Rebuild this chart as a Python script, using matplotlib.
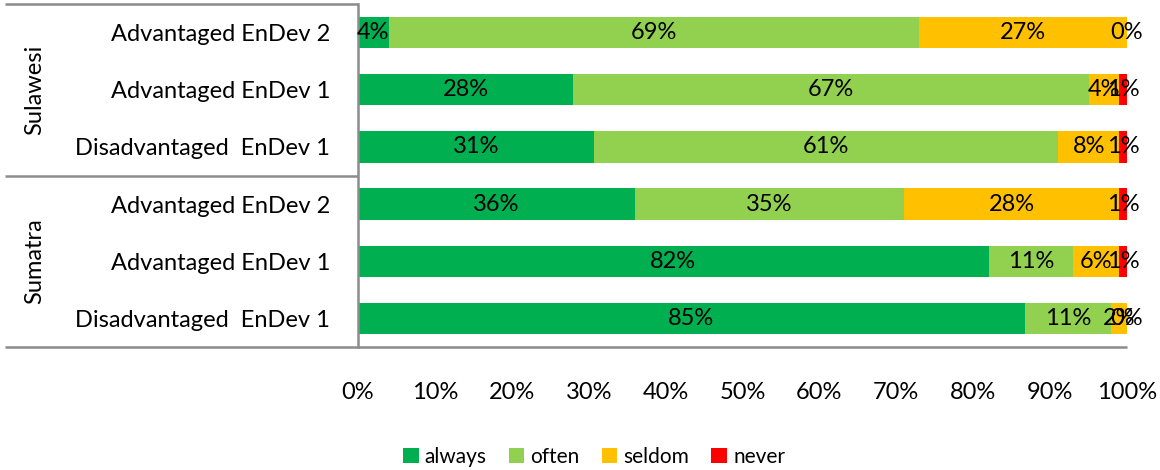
import matplotlib
matplotlib.use("Agg")
import matplotlib.pyplot as plt
from matplotlib.patches import Patch
from matplotlib.transforms import blended_transform_factory
import numpy as np

plt.rcParams['font.family'] = ['Lato', 'DejaVu Sans']

# Rows from top to bottom
regions = ["Sulawesi", "Sumatra"]
groups = ["Advantaged EnDev 2", "Advantaged EnDev 1", "Disadvantaged  EnDev 1",
          "Advantaged EnDev 2", "Advantaged EnDev 1", "Disadvantaged  EnDev 1"]
series = ["always", "often", "seldom", "never"]
always = [4, 28, 31, 36, 82, 85]
often = [69, 67, 61, 35, 11, 11]
seldom = [27, 4, 8, 28, 6, 2]
never = [0, 1, 1, 1, 1, 0]
colors = ["#00B050", "#92D050", "#FFC000", "#FF0000"]

FS = 17
GRID = "#8C8C8C"

fig = plt.figure(figsize=(11.6, 4.7), dpi=100)
ax = fig.add_axes([358 / 1160, 1 - 347 / 470, (1127 - 358) / 1160, (347 - 4) / 470])

# 100% stacked: each row is scaled by its own total
vals = np.array([always, often, seldom, never], dtype=float)
shares = vals / vals.sum(axis=0)
y = np.arange(len(groups))
left = np.zeros(len(groups))
for name, share, raw, col in zip(series, shares, vals, colors):
    ax.barh(y, share, left=left, height=0.55, color=col, label=name, linewidth=0)
    for yi, l, s, r in zip(y, left, share, raw):
        ax.text(l + s / 2, yi, f"{int(r)}%", ha="center", va="center",
                fontsize=FS, color="black")
    left = left + share

ax.set_xlim(0, 1)
ax.set_ylim(len(groups) - 0.5, -0.5)
ax.set_xticks(np.linspace(0, 1, 11))
ax.set_xticklabels([f"{p}%" for p in range(0, 101, 10)], fontsize=FS)
ax.set_yticks(y)
ax.set_yticklabels(groups, fontsize=FS)
ax.tick_params(axis="x", length=0, pad=25)
ax.tick_params(axis="y", length=0, pad=20)
for s in ["top", "right", "bottom"]:
    ax.spines[s].set_visible(False)
ax.spines["left"].set_color(GRID)
ax.spines["left"].set_linewidth(1.8)

# Multi-level category frame
tr = ax.get_yaxis_transform()
x0 = (5 - 358) / (1127 - 358)
for yy, x1 in [(-0.5, 0), (2.5, 0), (5.5, 1)]:
    ax.plot([x0, x1], [yy, yy], transform=tr, color=GRID, lw=1.8,
            clip_on=False, solid_capstyle="butt")

region_tr = blended_transform_factory(fig.transFigure, ax.transData)
for region, yc in zip(regions, [1, 4]):
    ax.text(35 / 1160, yc, region, transform=region_tr,
            rotation=90, ha="center", va="center", fontsize=FS)

handles = [Patch(facecolor=c, label=n) for n, c in zip(series, colors)]
fig.legend(handles=handles, loc="center", bbox_to_anchor=(594 / 1160, 1 - 457 / 470),
           ncol=4, frameon=False, fontsize=15, handlelength=0.75,
           handleheight=0.75, handletextpad=0.3, columnspacing=1.05)

fig.savefig("out.png", dpi=100)
